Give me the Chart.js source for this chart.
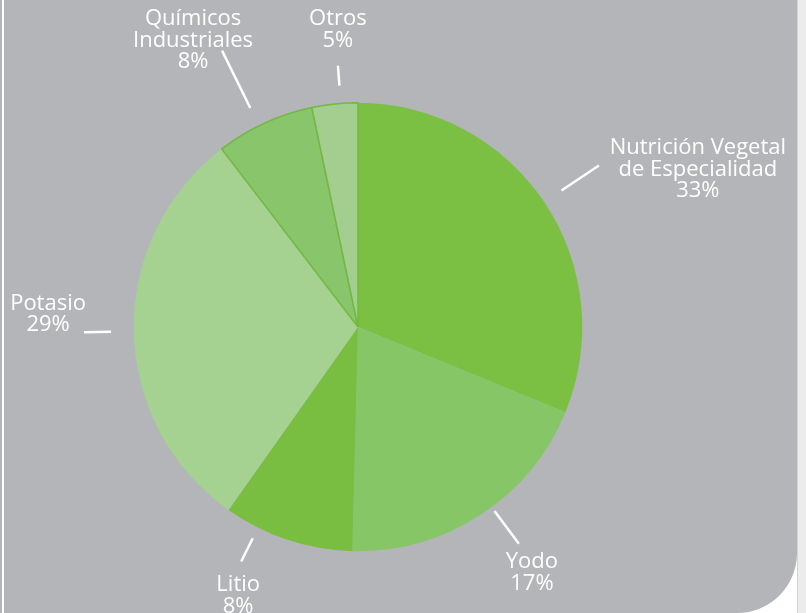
<!DOCTYPE html>
<html>
<head>
<meta charset="utf-8">
<script src="https://cdn.jsdelivr.net/npm/chart.js"></script>
<style>
  html, body { margin: 0; padding: 0; background: #fff; }
  #wrap { position: relative; width: 806px; height: 613px; overflow: hidden; }
  #panel { position: absolute; left: 0; top: 0; width: 797px; height: 613px; background: #b4b5b8; border-bottom-right-radius: 60px; }
  #edge { position: absolute; left: 2px; top: 0; width: 2px; height: 613px; background: #fff; }
  #side { position: absolute; left: 797px; top: 0; width: 9px; height: 613px; background: #ececec; border-left: 1px solid #d4d4d4; }
  #chart { position: absolute; left: 0; top: 0; }
</style>
</head>
<body>
<div id="wrap">
  <div id="panel"></div>
  <div id="edge"></div>
  <div id="side"></div>
  <canvas id="chart" width="806" height="613"></canvas>
</div>
<script>
// slices, clockwise from 12 o'clock
const categories = [['Nutrición Vegetal', 'de Especialidad'], ['Yodo'], ['Litio'], ['Potasio'], ['Químicos', 'Industriales'], ['Otros']]
const shares = [31.2, 19.2, 9.4, 29.8, 7.1, 3.3]
const shareLabels = ['33%', '17%', '8%', '29%', '8%', '5%']

const innerColors = ['#7bc042', '#86c666', '#79be41', '#a5d291', '#88c56b', '#a3ce8f']
const outerColors = ['#68a43d', '#7ab169', '#66a43b', '#92bd87', '#7ab26c', '#96c289']

// leader line placement: position inside slice, radii of the line, text offset from the line end
const leaders = [
  { frac: 0.5, r1: 245, r2: 290, dx: 99, dy: 4 },
  { frac: 0.45, r1: 229, r2: 270, dx: 13, dy: 29 },
  { frac: 0.74, r1: 236, r2: 262, dx: -3, dy: 34 },
  { frac: 0.5, r1: 247, r2: 274, dx: -36, dy: -18 },
  { frac: 0.44, r1: 244, r2: 308, dx: -29, dy: -10 },
  { frac: 0.63, r1: 242, r2: 262, dx: 0, dy: -36 }
]

function sliceFill(ctx) {
  const chart = ctx.chart
  const arc = chart.getDatasetMeta(0).data[ctx.dataIndex]
  if (!arc || !arc.outerRadius) return innerColors[ctx.dataIndex]
  const g = chart.ctx.createRadialGradient(arc.x, arc.y, 0, arc.x, arc.y, arc.outerRadius)
  g.addColorStop(0, innerColors[ctx.dataIndex])
  g.addColorStop(0.6, innerColors[ctx.dataIndex])
  g.addColorStop(1, outerColors[ctx.dataIndex])
  return g
}

const labelPlugin = {
  id: 'leaderLabels',
  afterDatasetsDraw(chart) {
    const c = chart.ctx
    const meta = chart.getDatasetMeta(0)
    c.save()
    c.strokeStyle = '#fff'
    c.fillStyle = '#fff'
    c.lineWidth = 2.5
    c.font = '22px "Open Sans"'
    c.textAlign = 'center'
    c.textBaseline = 'middle'
    meta.data.forEach((arc, i) => {
      const p = arc.getProps(['x', 'y', 'startAngle', 'endAngle'], true)
      const L = leaders[i]
      const a = p.startAngle + L.frac * (p.endAngle - p.startAngle)
      const x1 = p.x + Math.cos(a) * L.r1, y1 = p.y + Math.sin(a) * L.r1
      const x2 = p.x + Math.cos(a) * L.r2, y2 = p.y + Math.sin(a) * L.r2
      c.beginPath()
      c.moveTo(x1, y1)
      c.lineTo(x2, y2)
      c.stroke()
      const lines = categories[i].concat([shareLabels[i]])
      const lh = 21.5
      const cx = x2 + L.dx, cy = y2 + L.dy
      lines.forEach((t, k) => {
        c.fillText(t, cx, cy + (k - (lines.length - 1) / 2) * lh)
      })
    })
    c.restore()
  }
}

new Chart(document.getElementById('chart'), {
  type: 'pie',
  data: {
    labels: categories.map(l => l.join(' ')),
    datasets: [{
      data: shares,
      backgroundColor: sliceFill,
      borderWidth: [0, 0, 0, 0, 1.5, 1.5],
      borderColor: '#72b942'
    }]
  },
  options: {
    responsive: false,
    animation: false,
    layout: { padding: { left: 133, right: 223, top: 102, bottom: 61 } },
    plugins: { legend: { display: false }, tooltip: { enabled: false } }
  },
  plugins: [labelPlugin]
})
</script>
</body>
</html>
